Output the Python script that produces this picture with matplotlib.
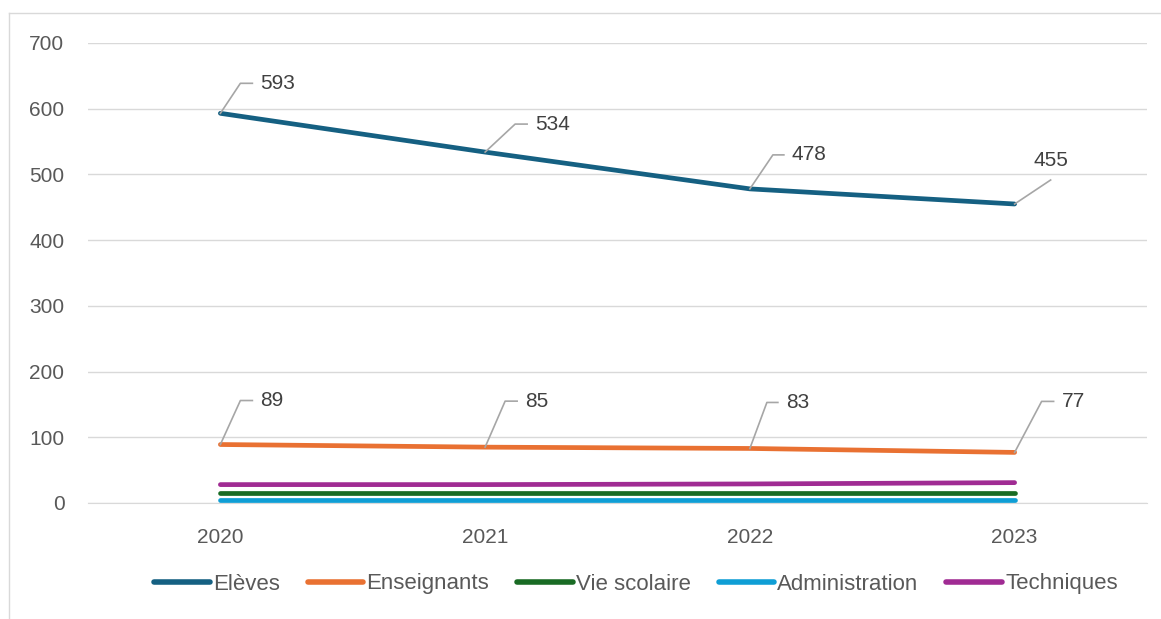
import matplotlib.pyplot as plt
import matplotlib.transforms as transforms
from matplotlib.lines import Line2D

years = ["2020", "2021", "2022", "2023"]
eleves = [593, 534, 478, 455]
enseignants = [89, 85, 83, 77]
vie_scolaire = [15, 15, 15, 15]
administration = [5, 5, 5, 5]
techniques = [28, 28, 29, 31]

series_names = ["Elèves", "Enseignants", "Vie scolaire", "Administration", "Techniques"]
series_values = [eleves, enseignants, vie_scolaire, administration, techniques]
colors = ["#156082", "#E97132", "#196B24", "#0F9ED5", "#A02B93"]

W, H = 1161, 619
FONT = ["Liberation Sans", "DejaVu Sans"]

# leader line layout per label, in pixels from the point:
# (corner dx, corner dy, end of horizontal dx, text dx, text dy, text alignment)
leaders = {
    "Elèves": [(20, 30, 32, 40, 30, "left"), (30, 28, 42, 50, 28, "left"),
               (23, 34, 34, 42, 34, "left"), (36, 24, 36, 36, 43, "center")],
    "Enseignants": [(20, 44, 32, 40, 44, "left"), (20, 46, 32, 40, 46, "left"),
                    (17, 46, 28, 36, 46, "left"), (27, 51, 39, 47, 51, "left")],
}


def main():
    fig = plt.figure(figsize=(W / 100, H / 100), dpi=100)
    ax = fig.add_axes([88 / W, 1 - 503 / H, (1147 - 88) / W, (503 - 43) / H])

    x = list(range(len(years)))
    for name, vals, col in zip(series_names, series_values, colors):
        ax.plot(x, vals, color=col, lw=3.4, solid_capstyle="round", label=name, zorder=3)

    ax.set_xlim(-0.5, 3.5)
    ax.set_ylim(0, 700)

    # data labels with leader lines
    for name, vals in zip(series_names, series_values):
        if name not in leaders:
            continue
        for xi, v, (cx, cy, hx, tx, ty, ha) in zip(x, vals, leaders[name]):
            tr = transforms.IdentityTransform() + transforms.ScaledTranslation(xi, v, ax.transData)
            ax.add_line(Line2D([0, cx, hx], [0, cy, cy], transform=tr, color="#a6a6a6",
                               lw=1.2, clip_on=False, zorder=4))
            ax.text(tx, ty, str(v), transform=tr, ha=ha, va="center", fontsize=15,
                    color="#404040", family=FONT)

    ax.set_yticks(range(0, 701, 100))
    ax.set_xticks(x)
    ax.set_xticklabels(years)
    ax.grid(axis="y", color="#d9d9d9", lw=1)
    ax.set_axisbelow(True)
    for s in ["top", "right", "left"]:
        ax.spines[s].set_visible(False)
    ax.spines["bottom"].set_color("#d9d9d9")
    ax.tick_params(axis="both", length=0, labelcolor="#595959", labelsize=15)
    ax.tick_params(axis="y", pad=17)
    ax.tick_params(axis="x", pad=18)
    for lab in ax.get_xticklabels() + ax.get_yticklabels():
        lab.set_family(FONT)

    leg = fig.legend(loc="center", bbox_to_anchor=(636 / W, 1 - 584 / H), ncol=5,
                     frameon=False, handlelength=2.5, handletextpad=0.15, columnspacing=1.25,
                     prop={"family": FONT, "size": 16})
    for t in leg.get_texts():
        t.set_color("#595959")
    for h in leg.legend_handles:
        h.set_linewidth(4)
        h.set_solid_capstyle("round")

    # chart area border (left and top visible)
    fig.add_artist(Line2D([9 / W, 9 / W], [0, 1 - 13 / H], transform=fig.transFigure,
                          color="#d9d9d9", lw=1))
    fig.add_artist(Line2D([9 / W, 1], [1 - 13 / H, 1 - 13 / H], transform=fig.transFigure,
                          color="#d9d9d9", lw=1))

    fig.savefig("out.png", dpi=100)


if __name__ == "__main__":
    main()
